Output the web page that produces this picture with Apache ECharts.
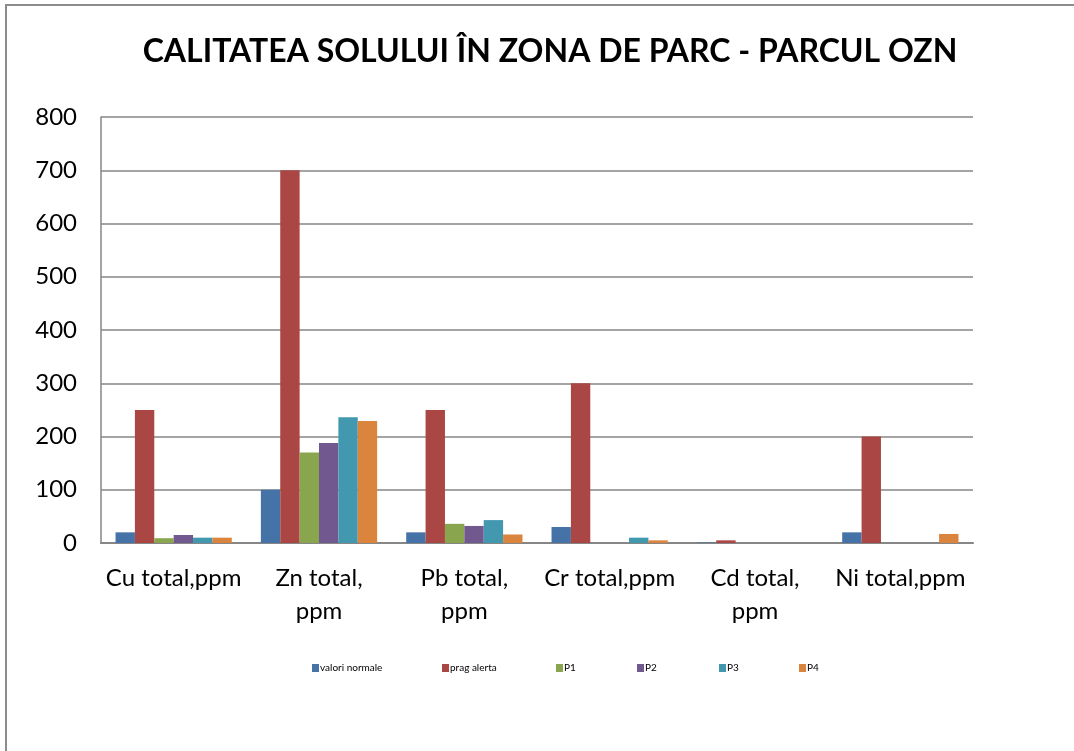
<!DOCTYPE html>
<html>
<head>
<meta charset="utf-8">
<script src="https://cdn.jsdelivr.net/npm/echarts@6/dist/echarts.min.js"></script>
<style>
  html, body { margin: 0; padding: 0; background: #fff; }
  #chart { width: 1074px; height: 751px; }
</style>
</head>
<body>
<div id="chart"></div>
<script>
const categories = ['Cu total,ppm', 'Zn total,\nppm', 'Pb total,\nppm', 'Cr total,ppm', 'Cd total,\nppm', 'Ni total,ppm'];
const seriesNames = ['valori normale', 'prag alerta', 'P1', 'P2', 'P3', 'P4'];
const valoriNormale = [20, 100, 20, 30, 1, 20];
const pragAlerta = [250, 700, 250, 300, 5, 200];
const p1 = [9, 170, 36, 0, 0, 0];
const p2 = [15, 188, 32, 0, 0, 0];
const p3 = [10, 236, 43, 10, 0, 0];
const p4 = [10, 229, 16, 5, 0, 17];

const COLORS = ['#4572A7', '#AA4643', '#89A54E', '#71588F', '#4198AF', '#DB843D'];
const allValues = [valoriNormale, pragAlerta, p1, p2, p3, p4];
// legend slots, like the original (not evenly spaced)
const legendLefts = [312, 442, 556, 637, 719, 799];

const FONT = 'Lato, "Liberation Sans", sans-serif';

const chart = echarts.init(document.getElementById('chart'), null, { renderer: 'canvas' });

chart.setOption({
  backgroundColor: '#ffffff',
  animation: false,
  color: COLORS,
  title: {
    text: 'CALITATEA SOLULUI ÎN ZONA DE PARC - PARCUL OZN',
    left: 545,
    textAlign: 'center',
    top: 31,
    textStyle: { fontFamily: FONT, fontSize: 32, fontWeight: 'bold', color: '#000' }
  },
  graphic: [{
    type: 'rect',
    shape: { x: 6, y: 5, width: 1100, height: 800 },
    style: { fill: 'none', stroke: '#8c8c8c', lineWidth: 2 },
    silent: true
  }],
  legend: seriesNames.map((name, i) => ({
    data: [name],
    left: legendLefts[i],
    top: 663,
    padding: 0,
    itemWidth: 7,
    itemHeight: 8,
    itemGap: 0,
    icon: 'rect',
    textStyle: { fontFamily: FONT, fontSize: 10, color: '#000', padding: [0, 0, 0, -4] }
  })),
  grid: { left: 101, right: 101, top: 117, bottom: 208 },
  xAxis: {
    type: 'category',
    data: categories,
    axisLine: { lineStyle: { color: '#868686', width: 2 } },
    axisTick: { show: false },
    axisLabel: { fontFamily: FONT, fontSize: 24, color: '#000', margin: 19, lineHeight: 33, interval: 0 }
  },
  yAxis: {
    type: 'value',
    min: 0,
    max: 800,
    interval: 100,
    axisLine: { show: true, lineStyle: { color: '#868686', width: 1.5 } },
    axisTick: { show: false },
    splitLine: { lineStyle: { color: '#868686', width: 1.5 } },
    axisLabel: { fontFamily: FONT, fontSize: 24, color: '#000', margin: 24 }
  },
  series: seriesNames.map((name, i) => ({
    name: name,
    type: 'bar',
    data: allValues[i],
    barGap: '0%',
    barCategoryGap: '20%',
    itemStyle: { color: COLORS[i] }
  }))
});
</script>
</body>
</html>
